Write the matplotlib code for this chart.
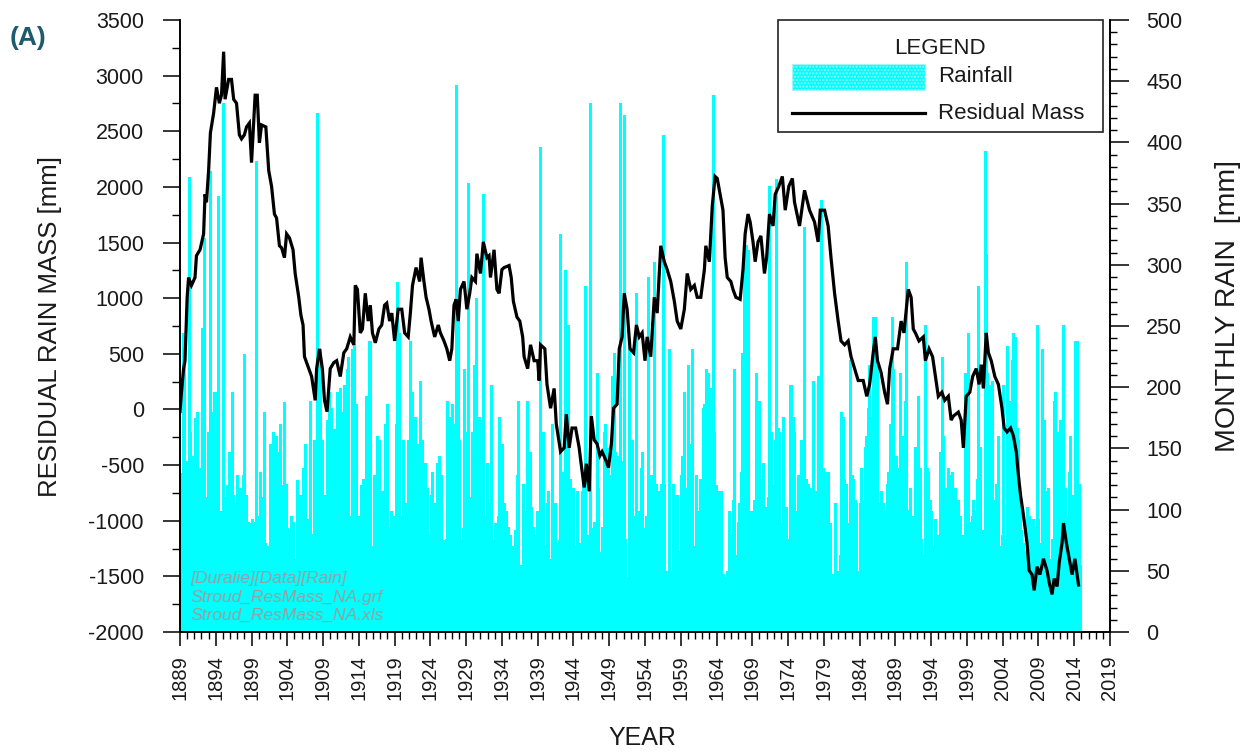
import numpy as np
import matplotlib
matplotlib.use("Agg")
import matplotlib.pyplot as plt
from matplotlib.patches import Rectangle
from matplotlib.lines import Line2D
from matplotlib.ticker import MultipleLocator, FixedLocator

plt.rcParams['font.family'] = ['Liberation Sans', 'DejaVu Sans']
plt.rcParams['axes.unicode_minus'] = False

# ────────────────────────────────────────────────
# DATOS - Stroud, lluvia mensual (mm), una fila por año desde 1889
# ────────────────────────────────────────────────
ANIO_INICIO = 1889

lluvia_mensual = [
    [120, 95, 130, 80, 244, 110, 218, 70, 121, 140, 90, 105],   # 1889
    [110, 85, 372, 120, 163, 70, 100, 144, 60, 90, 95, 130],
    [150, 175, 90, 160, 180, 110, 120, 80, 100, 134, 95, 120],
    [248, 120, 95, 322, 140, 110, 80, 60, 89, 75, 130, 163],
    [140, 110, 377, 150, 125, 160, 90, 180, 196, 130, 196, 105],
    [120, 90, 140, 356, 110, 95, 70, 99, 60, 45, 47, 80],
    [432, 90, 70, 53, 110, 80, 60, 120, 95, 147, 130, 100],
    [100, 85, 196, 95, 70, 112, 80, 60, 105, 90, 75, 128],
    [90, 70, 99, 85, 118, 60, 95, 80, 110, 128, 75, 227],
    [80, 95, 112, 70, 60, 90, 75, 55, 89, 70, 85, 65],
    [92, 70, 85, 60, 75, 90, 65, 385, 80, 60, 70, 95],
    [95, 131, 80, 70, 65, 60, 90, 110, 180, 75, 73, 60],       # 1900
    [50, 66, 45, 70, 40, 60, 154, 55, 35, 60, 147, 45],
    [163, 60, 45, 110, 50, 160, 40, 65, 55, 147, 70, 50],
    [170, 80, 47, 90, 120, 70, 188, 85, 60, 95, 121, 85],
    [70, 55, 83, 40, 53, 95, 60, 75, 45, 90, 60, 50],
    [45, 60, 40, 124, 55, 35, 53, 70, 40, 112, 50, 30],
    [40, 55, 134, 35, 60, 45, 154, 50, 92, 40, 30, 65],
    [70, 189, 50, 80, 45, 53, 65, 40, 75, 157, 55, 60],
    [60, 75, 424, 50, 45, 70, 231, 55, 40, 80, 157, 50],
    [60, 85, 56, 112, 70, 90, 173, 50, 120, 196, 154, 95],
    [183, 70, 121, 85, 60, 166, 75, 90, 99, 55, 80, 196],      # 1910
    [95, 60, 79, 110, 199, 70, 85, 180, 60, 100, 202, 75],
    [80, 199, 65, 90, 215, 60, 225, 75, 55, 95, 70, 85],
    [231, 70, 95, 235, 60, 85, 75, 186, 90, 55, 66, 80],
    [95, 70, 53, 120, 85, 100, 125, 90, 110, 118, 75, 193],
    [60, 189, 45, 55, 238, 50, 40, 238, 35, 45, 24, 50],
    [70, 128, 85, 121, 60, 90, 160, 75, 95, 157, 65, 80],
    [115, 60, 90, 75, 115, 70, 85, 170, 65, 80, 186, 55],
    [55, 45, 86, 60, 40, 99, 50, 95, 35, 60, 95, 45],
    [80, 170, 65, 90, 286, 75, 100, 244, 70, 95, 85, 90],
    [60, 157, 50, 45, 70, 105, 40, 55, 105, 50, 157, 45],      # 1920
    [90, 238, 110, 85, 196, 120, 170, 95, 130, 176, 100, 115],
    [70, 60, 85, 154, 55, 75, 205, 65, 45, 157, 60, 70],
    [50, 73, 45, 138, 40, 55, 118, 35, 60, 79, 45, 40],
    [112, 60, 75, 131, 55, 70, 105, 50, 102, 65, 80, 138],
    [55, 70, 144, 45, 60, 128, 50, 65, 53, 40, 57, 75],
    [65, 76, 55, 80, 189, 60, 45, 27, 70, 176, 50, 85],
    [186, 70, 95, 170, 85, 60, 447, 90, 75, 254, 80, 100],
    [157, 60, 57, 75, 50, 34, 85, 70, 215, 55, 65, 163],
    [80, 95, 367, 70, 60, 85, 90, 31, 110, 75, 163, 90],
    [70, 218, 60, 85, 273, 50, 95, 65, 80, 176, 55, 173],      # 1930
    [90, 89, 75, 110, 358, 70, 85, 63, 95, 80, 138, 70],
    [70, 55, 60, 105, 45, 70, 202, 50, 40, 63, 75, 55],
    [89, 70, 85, 60, 89, 95, 75, 176, 65, 112, 80, 70],
    [154, 60, 75, 105, 55, 80, 99, 70, 60, 65, 86, 75],
    [45, 79, 40, 55, 24, 50, 70, 35, 45, 83, 40, 50],
    [128, 40, 35, 189, 45, 30, 47, 55, 31, 40, 50, 121],
    [80, 60, 99, 75, 65, 189, 85, 70, 86, 60, 147, 90],
    [55, 102, 50, 60, 86, 45, 55, 79, 40, 65, 99, 50],
    [76, 55, 70, 396, 50, 65, 79, 45, 60, 163, 70, 60],
    [50, 40, 35, 105, 45, 115, 30, 40, 60, 35, 45, 170],       # 1940
    [45, 40, 73, 35, 105, 30, 45, 60, 35, 40, 73, 45],
    [75, 325, 60, 80, 131, 70, 92, 65, 85, 296, 60, 75],
    [128, 45, 40, 251, 35, 50, 125, 40, 55, 70, 35, 118],
    [40, 35, 70, 45, 30, 115, 40, 35, 73, 30, 45, 47],
    [35, 115, 30, 40, 121, 25, 35, 283, 30, 40, 79, 35],
    [60, 66, 75, 432, 80, 70, 66, 85, 75, 76, 90, 70],
    [83, 60, 55, 212, 45, 118, 50, 65, 50, 40, 60, 86],
    [50, 45, 163, 40, 55, 170, 45, 73, 40, 50, 150, 45],
    [90, 128, 85, 110, 209, 75, 95, 228, 80, 147, 100, 85],
    [76, 120, 110, 144, 130, 100, 432, 115, 125, 83, 140, 105],  # 1950
    [422, 45, 76, 40, 35, 37, 45, 30, 231, 40, 35, 157],
    [60, 157, 70, 55, 76, 65, 80, 95, 70, 277, 85, 75],
    [70, 55, 99, 65, 134, 50, 75, 147, 60, 85, 60, 70],
    [80, 63, 95, 70, 290, 85, 83, 100, 75, 128, 90, 80],
    [128, 110, 95, 302, 100, 120, 121, 90, 70, 115, 105, 89],
    [60, 45, 121, 50, 40, 406, 45, 35, 121, 40, 47, 50],
    [45, 50, 40, 55, 231, 35, 40, 27, 45, 50, 121, 40],
    [27, 50, 45, 112, 40, 55, 112, 35, 45, 66, 40, 50],
    [128, 80, 144, 90, 75, 196, 85, 100, 118, 95, 80, 218],
    [55, 60, 99, 45, 154, 50, 65, 231, 40, 55, 60, 45],        # 1960
    [70, 128, 65, 80, 99, 60, 75, 125, 70, 125, 65, 75],
    [183, 70, 85, 186, 90, 75, 215, 80, 95, 212, 70, 53],
    [100, 120, 199, 110, 130, 439, 105, 125, 163, 115, 112, 120],
    [40, 86, 35, 45, 115, 30, 40, 115, 35, 30, 47, 40],
    [37, 45, 40, 40, 35, 50, 50, 45, 40, 99, 55, 45],
    [79, 55, 50, 108, 45, 215, 40, 55, 63, 45, 50, 86],
    [90, 100, 105, 95, 110, 131, 100, 228, 115, 105, 312, 120],
    [70, 316, 60, 55, 312, 45, 50, 99, 40, 89, 45, 55],
    [99, 60, 55, 108, 50, 65, 212, 55, 60, 89, 70, 189],
    [55, 45, 125, 50, 40, 138, 45, 35, 21, 50, 40, 102],       # 1970
    [90, 57, 110, 95, 364, 100, 105, 163, 120, 115, 40, 110],
    [80, 157, 90, 85, 370, 75, 167, 95, 80, 163, 85, 70],
    [89, 55, 60, 176, 50, 43, 65, 55, 102, 60, 50, 76],
    [60, 75, 202, 55, 70, 202, 65, 176, 60, 55, 163, 70],
    [75, 99, 70, 80, 128, 65, 75, 79, 85, 157, 70, 80],
    [112, 55, 60, 331, 50, 45, 125, 55, 50, 121, 60, 50],
    [70, 65, 118, 60, 55, 205, 60, 65, 115, 50, 60, 43],
    [80, 65, 209, 75, 99, 70, 85, 353, 75, 80, 134, 70],
    [50, 131, 45, 40, 57, 50, 131, 35, 45, 89, 40, 45],
    [27, 35, 30, 47, 25, 35, 105, 30, 47, 35, 30, 50],         # 1980
    [40, 45, 63, 35, 50, 180, 40, 45, 176, 35, 125, 40],
    [45, 121, 40, 50, 89, 35, 45, 222, 40, 45, 128, 40],
    [125, 40, 35, 108, 45, 40, 105, 35, 45, 34, 50, 40],
    [105, 45, 134, 50, 40, 108, 55, 45, 151, 50, 45, 160],
    [85, 90, 183, 95, 218, 80, 100, 176, 90, 85, 257, 95],
    [60, 257, 45, 50, 218, 40, 35, 105, 30, 79, 40, 35],
    [115, 60, 65, 105, 55, 70, 99, 60, 65, 121, 55, 131],
    [75, 90, 170, 80, 95, 257, 70, 85, 215, 90, 80, 134],
    [70, 144, 75, 85, 134, 70, 80, 212, 75, 85, 160, 70],
    [89, 95, 85, 189, 100, 90, 302, 95, 85, 83, 100, 90],      # 1990
    [118, 45, 40, 50, 35, 95, 40, 35, 151, 40, 45, 141],
    [50, 45, 193, 55, 40, 134, 45, 76, 40, 50, 63, 45],
    [60, 251, 55, 65, 134, 50, 70, 131, 60, 108, 55, 65],
    [99, 40, 45, 70, 35, 40, 92, 35, 45, 79, 40, 53],
    [65, 70, 147, 60, 75, 225, 65, 70, 160, 55, 65, 89],
    [118, 105, 45, 50, 134, 40, 45, 128, 40, 50, 131, 45],
    [112, 55, 50, 118, 45, 60, 79, 50, 55, 108, 50, 60],
    [95, 60, 79, 65, 55, 79, 70, 60, 212, 65, 70, 118],
    [85, 80, 244, 75, 89, 90, 80, 50, 95, 85, 108, 90],
    [70, 99, 65, 75, 125, 60, 283, 55, 65, 151, 60, 70],       # 2000
    [83, 55, 60, 79, 50, 65, 393, 309, 45, 60, 212, 160],
    [45, 40, 202, 50, 35, 205, 40, 45, 79, 35, 40, 108],
    [40, 121, 35, 45, 160, 30, 40, 70, 35, 40, 79, 35],
    [202, 45, 40, 76, 35, 50, 234, 40, 45, 189, 40, 50],
    [189, 40, 35, 222, 30, 244, 35, 30, 241, 35, 40, 167],
    [35, 30, 157, 25, 30, 112, 25, 83, 20, 30, 73, 25],
    [30, 66, 25, 35, 102, 30, 25, 95, 30, 92, 25, 30],
    [66, 60, 55, 92, 50, 65, 86, 55, 60, 251, 50, 92],
    [60, 55, 73, 50, 65, 231, 55, 60, 173, 50, 60, 79],
    [45, 115, 40, 50, 118, 45, 40, 60, 45, 50, 76, 40],        # 2010
    [70, 189, 75, 196, 80, 65, 163, 70, 75, 79, 85, 70],
    [173, 60, 65, 131, 55, 251, 60, 55, 118, 50, 60, 95],
    [50, 45, 131, 40, 50, 160, 40, 112, 45, 50, 92, 40],
    [60, 238, 55, 50, 238, 45, 50, 121, 83, 55],               # 2014 (hasta oct)
]

# Curva de masa residual (mm) - año decimal y valor
masa_anio = [
    1889.0, 1889.2, 1889.5, 1889.7, 1890.0, 1890.2, 1890.6, 1891.1, 1891.3, 1891.8,
    1892.3, 1892.5, 1892.7, 1893.0, 1893.25, 1893.7, 1894.1, 1894.5, 1894.8, 1895.1,
    1895.3, 1895.8, 1896.2, 1896.5, 1896.9, 1897.3, 1897.6, 1898.0, 1898.3, 1898.7,
    1899.0, 1899.5, 1899.8, 1900.1, 1900.4, 1901.0, 1901.4, 1901.8, 1902.2, 1902.5,
    1902.9, 1903.2, 1903.6, 1903.9, 1904.3, 1904.8, 1905.1, 1905.6, 1905.9, 1906.2,
    1906.4, 1907.0, 1907.4, 1907.9, 1908.1, 1908.5, 1908.9, 1909.2, 1909.55, 1910.0,
    1910.5, 1910.9, 1911.4, 1911.9, 1912.3, 1912.8, 1913.3, 1913.5, 1913.8, 1914.2,
    1914.5, 1914.9, 1915.3, 1915.6, 1915.9, 1916.3, 1916.8, 1917.2, 1917.6, 1917.9,
    1918.3, 1918.6, 1919.0, 1919.5, 1920.0, 1920.4, 1920.9, 1921.2, 1921.5, 1922.0,
    1922.5, 1922.7, 1923.1, 1923.4, 1923.8, 1924.1, 1924.6, 1925.1, 1925.4, 1925.9,
    1926.3, 1926.7, 1927.0, 1927.3, 1927.6, 1927.9, 1928.2, 1928.7, 1929.1, 1929.5,
    1929.8, 1930.3, 1930.5, 1931.0, 1931.4, 1931.9, 1932.2, 1932.4, 1932.9, 1933.3,
    1933.6, 1934.0, 1934.3, 1935.0, 1935.3, 1935.6, 1936.1, 1936.5, 1936.9, 1937.1,
    1937.6, 1938.0, 1938.5, 1939.0, 1939.2, 1939.4, 1940.0, 1940.3, 1940.8, 1941.3,
    1941.6, 1942.2, 1942.7, 1943.0, 1943.4, 1943.8, 1944.3, 1944.8, 1945.0, 1945.5,
    1945.8, 1946.2, 1946.5, 1946.9, 1947.3, 1947.7, 1948.0, 1948.5, 1948.9, 1949.3,
    1949.6, 1950.1, 1950.4, 1950.8, 1951.1, 1951.5, 1951.9, 1952.4, 1952.8, 1953.2,
    1953.6, 1954.0, 1954.3, 1954.8, 1955.3, 1955.7, 1956.2, 1956.7, 1957.1, 1957.6,
    1958.1, 1958.5, 1959.0, 1959.5, 1959.9, 1960.4, 1960.9, 1961.3, 1961.8, 1962.3,
    1962.5, 1963.0, 1963.4, 1963.8, 1964.1, 1964.5, 1964.9, 1965.2, 1965.5, 1966.0,
    1966.3, 1966.7, 1967.3, 1967.7, 1968.0, 1968.4, 1968.7, 1969.1, 1969.4, 1969.8,
    1970.2, 1970.7, 1971.0, 1971.4, 1971.9, 1972.2, 1972.7, 1973.2, 1973.6, 1974.1,
    1974.6, 1974.9, 1975.6, 1976.3, 1977.0, 1977.7, 1978.2, 1978.5, 1979.1, 1979.6,
    1980.0, 1980.5, 1981.0, 1981.4, 1981.9, 1982.4, 1982.8, 1983.3, 1983.8, 1984.5,
    1985.0, 1985.4, 1985.9, 1986.2, 1986.5, 1987.0, 1987.5, 1987.9, 1988.2, 1988.7,
    1989.3, 1989.8, 1990.2, 1990.8, 1991.2, 1991.5, 1991.8, 1992.3, 1992.9, 1993.2,
    1993.7, 1994.2, 1994.6, 1995.0, 1995.5, 1995.9, 1996.4, 1996.8, 1997.1, 1997.8,
    1998.2, 1998.5, 1998.9, 1999.4, 1999.8, 2000.3, 2000.7, 2001.0, 2001.3, 2001.7,
    2002.0, 2002.4, 2002.9, 2003.4, 2003.9, 2004.2, 2004.6, 2005.1, 2005.5, 2005.9,
    2006.2, 2006.5, 2006.9, 2007.4, 2007.7, 2008.1, 2008.4, 2008.8, 2009.2, 2009.7,
    2010.2, 2010.5, 2010.9, 2011.2, 2011.6, 2011.9, 2012.3, 2012.5, 2012.9, 2013.3,
    2013.7, 2014.1, 2014.6,
]
masa_mm = [
    -20, 150, 367, 438, 1008, 1186, 1115, 1186, 1382, 1435,
    1578, 1934, 1862, 2147, 2485, 2663, 2895, 2752, 2824, 3215,
    2788, 2966, 2966, 2788, 2752, 2468, 2432, 2468, 2539, 2574,
    2218, 2824, 2824, 2396, 2557, 2539, 2147, 2005, 1756, 1720,
    1471, 1453, 1364, 1578, 1542, 1435, 1222, 1008, 848, 759,
    474, 367, 296, 82, 367, 545, 367, 82, -20, 367,
    421, 438, 296, 510, 545, 652, 581, 1115, 1079, 688,
    723, 1044, 794, 937, 688, 599, 723, 759, 937, 955,
    794, 866, 616, 901, 901, 688, 652, 866, 1115, 1275,
    1150, 1364, 1150, 1008, 901, 794, 652, 759, 688, 616,
    545, 438, 545, 937, 990, 794, 1079, 1150, 901, 1044,
    1186, 1150, 1400, 1222, 1506, 1364, 1382, 1186, 1435, 1079,
    1044, 1257, 1275, 1293, 1186, 972, 830, 794, 652, 474,
    367, 581, 438, 438, 260, 581, 545, 225, 11, 189,
    -131, -380, -345, -42, -345, -167, -167, -345, -452, -701,
    -487, -736, -60, -274, -309, -416, -380, -452, -523, -309,
    11, 47, 545, 652, 1044, 901, 545, 510, 759, 652,
    688, 438, 652, 474, 1008, 866, 1471, 1328, 1257, 1150,
    972, 794, 723, 901, 1222, 1079, 1115, 1008, 1008, 1257,
    1471, 1328, 1827, 2094, 2076, 1934, 1791, 1364, 1186, 1150,
    1079, 1008, 990, 1257, 1578, 1756, 1684, 1506, 1328, 1506,
    1560, 1222, 1364, 1756, 1649, 1934, 2005, 2094, 1791, 2005,
    2076, 1862, 1649, 1969, 1791, 1684, 1506, 1791, 1791, 1649,
    1364, 1044, 794, 616, 581, 616, 474, 367, 260, 260,
    118, 225, 510, 652, 438, 332, 154, 47, 367, 545,
    545, 794, 688, 1079, 1008, 723, 688, 616, 652, 438,
    545, 474, 296, 118, 154, 82, 118, -96, -60, -24,
    -96, -345, 118, 154, 296, 367, 225, 403, 189, 688,
    510, 438, 296, 225, 11, -167, -202, -167, -238, -380,
    -594, -772, -950, -1199, -1448, -1484, -1626, -1413, -1484, -1342,
    -1448, -1555, -1662, -1520, -1591, -1377, -1199, -1021, -1199, -1342,
    -1484, -1342, -1578,
]

anios_etiqueta = list(range(1889, 2020, 5))
archivos = ["[Duralie][Data][Rain]", "Stroud_ResMass_NA.grf", "Stroud_ResMass_NA.xls"]

# ────────────────────────────────────────────────
# GRÁFICO
# ────────────────────────────────────────────────
lluvia = np.concatenate([np.array(f, dtype=float) for f in lluvia_mensual])
centros = ANIO_INICIO + (np.arange(len(lluvia)) + 0.5) / 12.0

fig = plt.figure(figsize=(12.53, 7.53), dpi=100)
ax = fig.add_axes([180 / 1253, 121 / 753, 930 / 1253, 612 / 753])
ax2 = ax.twinx()
ax.set_zorder(ax2.get_zorder() + 1)
ax.patch.set_visible(False)

CIAN = '#00ffff'
TXT = '#1a1a1a'

# barras de lluvia (eje derecho): una columna por mes, sin suavizado
ax2.vlines(centros, 0, lluvia, colors=CIAN, linewidth=0.95, antialiased=False)
ax2.set_ylim(0, 500)
ax2.yaxis.set_major_locator(MultipleLocator(50))
ax2.yaxis.set_minor_locator(MultipleLocator(10))

# masa residual (eje izquierdo)
ax.plot(masa_anio, masa_mm, color='black', linewidth=2.3, solid_joinstyle='miter')
ax.set_ylim(-2000, 3500)
ax.set_xlim(1889, 2019)
ax.yaxis.set_major_locator(MultipleLocator(500))
ax.yaxis.set_minor_locator(MultipleLocator(250))
ax.xaxis.set_major_locator(FixedLocator(anios_etiqueta))
ax.xaxis.set_minor_locator(MultipleLocator(1))

for a in (ax, ax2):
    a.spines['top'].set_visible(False)
    for s in a.spines.values():
        s.set_linewidth(1.2)

ax.tick_params(axis='y', which='major', direction='out', length=12, width=1.1,
               pad=14, labelsize=15.5, labelcolor=TXT)
ax.tick_params(axis='y', which='minor', direction='out', length=6, width=1.0)
ax.tick_params(axis='x', which='major', direction='out', length=10, width=1.1,
               pad=7, labelsize=14.5, labelcolor=TXT, labelrotation=90)
ax.tick_params(axis='x', which='minor', direction='out', length=5, width=1.0)
ax2.tick_params(axis='y', which='major', direction='out', length=14, width=1.1,
                pad=12, labelsize=15.5, labelcolor=TXT)
ax2.tick_params(axis='y', which='minor', direction='out', length=5, width=1.0)

# textos de ejes
fig.text(50 / 1253, 1 - 326 / 753, "RESIDUAL RAIN MASS [mm]", rotation=90,
         ha='center', va='center', fontsize=18.5, color=TXT)
fig.text(1228 / 1253, 1 - 306 / 753, "MONTHLY RAIN  [mm]", rotation=90,
         ha='center', va='center', fontsize=20.5, color=TXT)
fig.text(642 / 1253, 1 - 738 / 753, "YEAR", ha='center', va='center',
         fontsize=18, color=TXT)
fig.text(28 / 1253, 1 - 38 / 753, "(A)", ha='center', va='center',
         fontsize=19, fontweight='bold', color='#1d5a6e')

# rutas de archivo (marca gris)
for i, linea in enumerate(archivos):
    ax.text(0.011, 0.087 - i * 0.030, linea, transform=ax.transAxes,
            fontsize=12.5, style='italic', color='#969f9f', va='center', ha='left',
            zorder=5)

# leyenda
ax.add_patch(Rectangle((0.643, 0.817), 0.3495, 0.183, transform=ax.transAxes,
                       facecolor='white', edgecolor='#222222', linewidth=1.2,
                       zorder=10, clip_on=False))
ax.text(0.817, 0.954, "LEGEND", transform=ax.transAxes, ha='center', va='center',
        fontsize=16, color=TXT, zorder=11)
ax.add_patch(Rectangle((0.658, 0.886), 0.143, 0.042, transform=ax.transAxes,
                       facecolor=CIAN, edgecolor='#9ff7f7', hatch='.....',
                       linewidth=0.8, zorder=11, clip_on=False))
ax.text(0.815, 0.907, "Rainfall", transform=ax.transAxes, ha='left', va='center',
        fontsize=16, color=TXT, zorder=11)
ax.add_line(Line2D([0.658, 0.801], [0.848, 0.848], transform=ax.transAxes,
                   color='black', linewidth=2.3, zorder=11, clip_on=False))
ax.text(0.815, 0.848, "Residual Mass", transform=ax.transAxes, ha='left',
        va='center', fontsize=16, color=TXT, zorder=11)

fig.savefig("out.png", dpi=100)
plt.close(fig)
print("  Gráfico generado: 'out.png'")
